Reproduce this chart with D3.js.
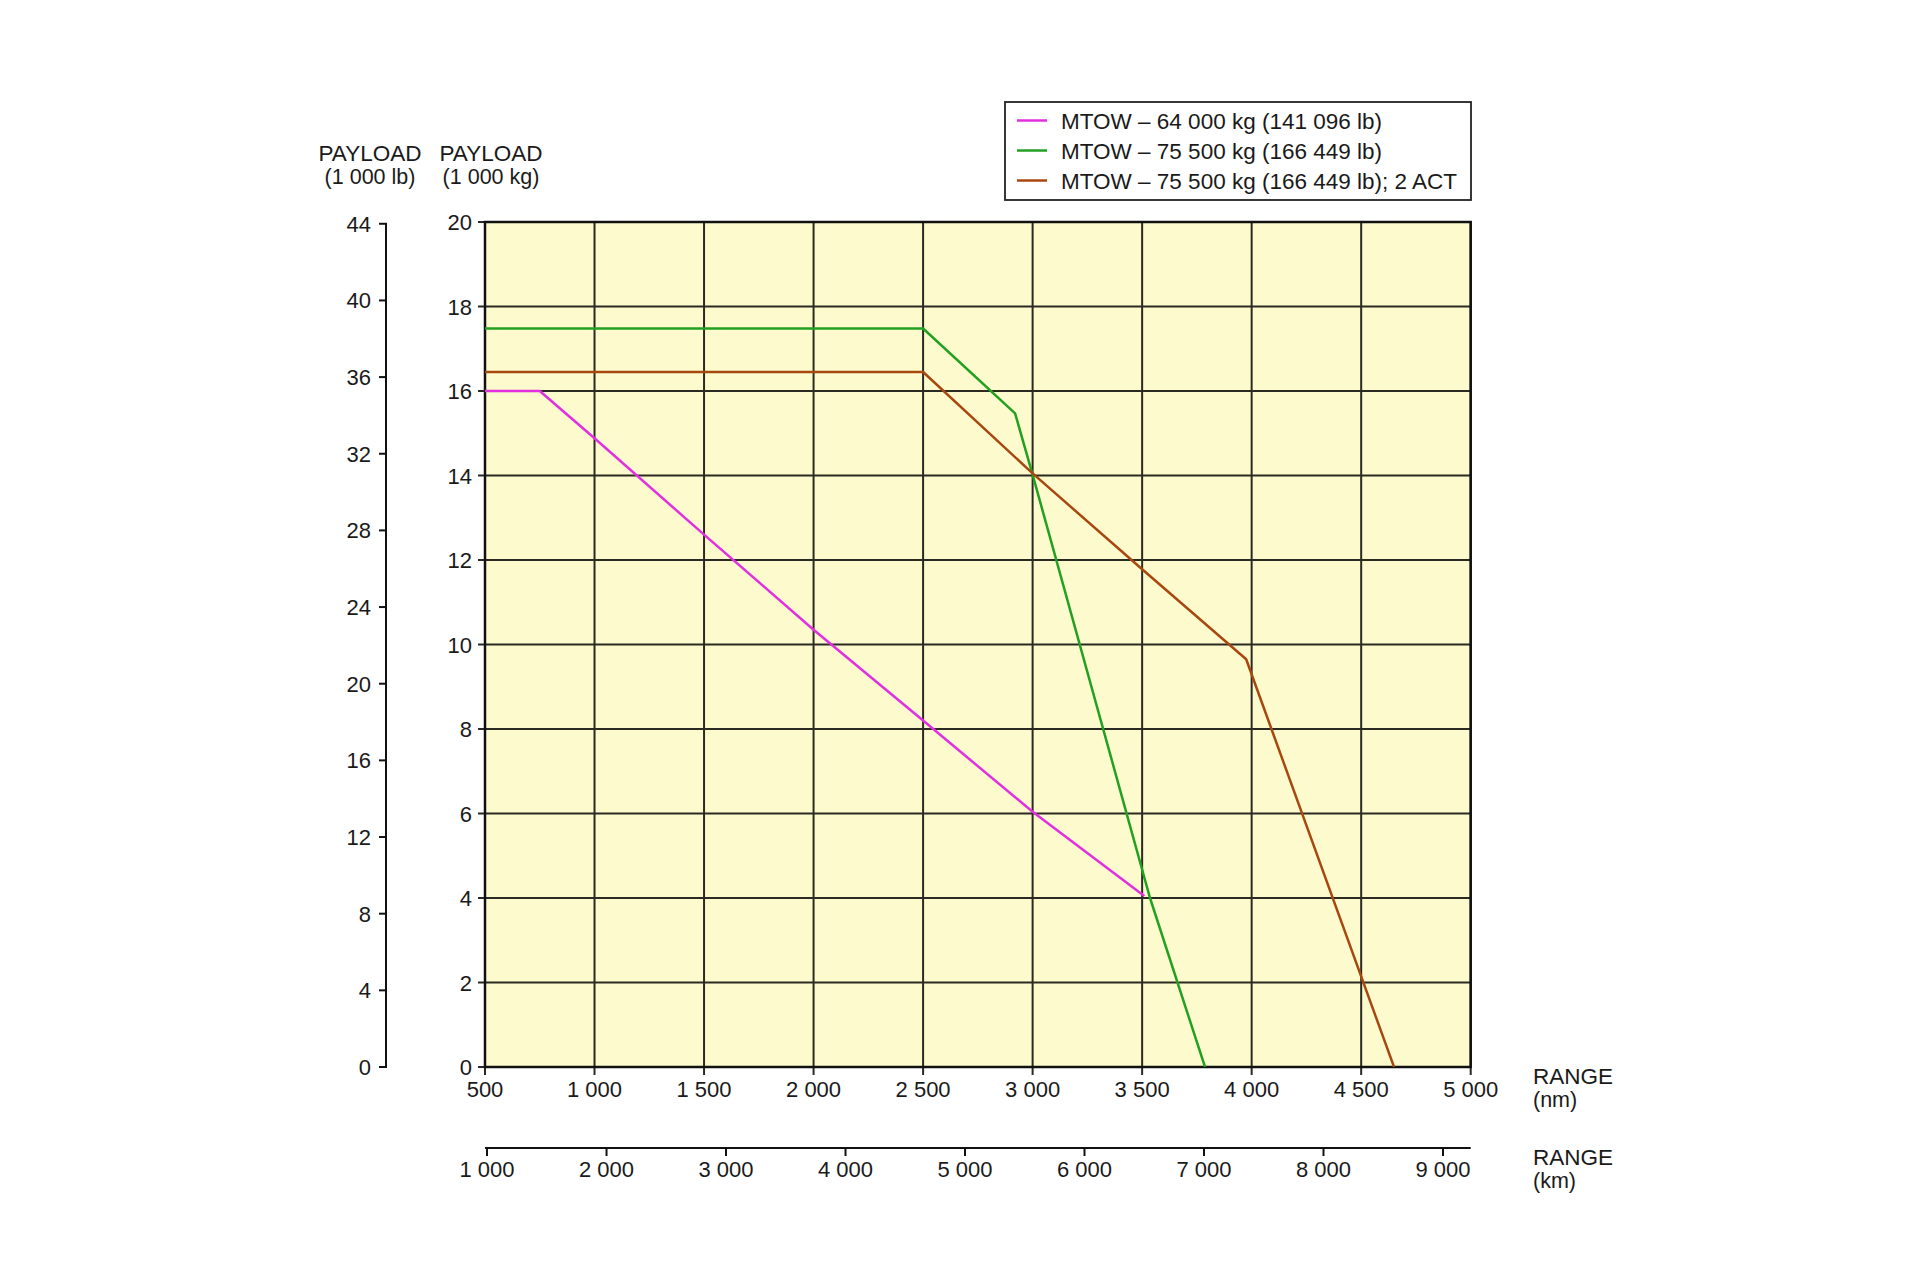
<!DOCTYPE html>
<html>
<head>
<meta charset="utf-8">
<script src="https://cdn.jsdelivr.net/npm/d3@7"></script>
<style>
  html, body { margin: 0; padding: 0; background: #fff; }
  svg text { font-family: "Liberation Sans", Arial, sans-serif; fill: #1a1a1a; }
</style>
</head>
<body>
<svg id="chart" width="1920" height="1280"></svg>
<script>
// ---- Data ----
const seriesNames = [
  "MTOW – 64 000 kg (141 096 lb)",
  "MTOW – 75 500 kg (166 449 lb)",
  "MTOW – 75 500 kg (166 449 lb); 2 ACT"
];
const seriesColors = ["#e22fe0", "#22a022", "#a8470f"];
// range (nm) / payload (1 000 kg)
const mtow64Range   = [500, 750, 1000, 1500, 2000, 2500, 3000, 3510];
const mtow64Payload = [16.0, 16.0, 14.88, 12.6, 10.35, 8.2, 6.04, 4.05];
const mtow75Range   = [500, 2500, 2920, 3000, 3536, 3787];
const mtow75Payload = [17.48, 17.48, 15.47, 14.02, 4.0, 0];
const mtow75ActRange   = [500, 2500, 3000, 3500, 3975, 4650];
const mtow75ActPayload = [16.45, 16.45, 14.05, 11.78, 9.65, 0];

const nmTicks = [500, 1000, 1500, 2000, 2500, 3000, 3500, 4000, 4500, 5000];
const kmTicks = [1000, 2000, 3000, 4000, 5000, 6000, 7000, 8000, 9000];
const kgTicks = [0, 2, 4, 6, 8, 10, 12, 14, 16, 18, 20];
const lbTicks = [0, 4, 8, 12, 16, 20, 24, 28, 32, 36, 40, 44];

// ---- Layout ----
const svg = d3.select("#chart");
const L = 485, R = 1470.7, T = 222, B = 1067;
const x = d3.scaleLinear().domain([500, 5000]).range([L, R]);
const y = d3.scaleLinear().domain([0, 20]).range([B, T]);
const yLb = d3.scaleLinear().domain([0, 20 * 2.20462]).range([B, T]);
const xKm = d3.scaleLinear().domain([983, 9232]).range([L, R]);
const fmtSp = v => (v >= 1000 ? Math.floor(v / 1000) + " " + String(v % 1000).padStart(3, "0") : String(v));

// plot background
svg.append("rect").attr("x", L).attr("y", T).attr("width", R - L).attr("height", B - T)
  .attr("fill", "#fdfbcd");

// grid
const grid = svg.append("g");
grid.selectAll("line.v").data(nmTicks).enter().append("line")
  .attr("x1", d => x(d)).attr("x2", d => x(d)).attr("y1", T).attr("y2", B + 8)
  .attr("stroke", "#2a2a22").attr("stroke-width", 2);
grid.selectAll("line.h").data(kgTicks).enter().append("line")
  .attr("x1", L - 7).attr("x2", R).attr("y1", d => y(d)).attr("y2", d => y(d))
  .attr("stroke", "#2a2a22").attr("stroke-width", 2);

// border
svg.append("rect").attr("x", L).attr("y", T).attr("width", R - L).attr("height", B - T)
  .attr("fill", "none").attr("stroke", "#111").attr("stroke-width", 2.5);

// nm tick labels
svg.append("g").selectAll("text").data(nmTicks).enter().append("text")
  .attr("x", d => x(d)).attr("y", 1097).attr("text-anchor", "middle")
  .attr("font-size", 22).text(d => fmtSp(d));

// kg tick labels
svg.append("g").selectAll("text").data(kgTicks).enter().append("text")
  .attr("x", 472).attr("y", d => y(d) + 8).attr("text-anchor", "end")
  .attr("font-size", 22).text(d => d);

// lb axis
const lbAxis = svg.append("g");
lbAxis.append("line").attr("x1", 386).attr("x2", 386).attr("y1", yLb(44)).attr("y2", B)
  .attr("stroke", "#111").attr("stroke-width", 2);
lbAxis.selectAll("line.t").data(lbTicks).enter().append("line")
  .attr("x1", 379).attr("x2", 387).attr("y1", d => yLb(d)).attr("y2", d => yLb(d))
  .attr("stroke", "#111").attr("stroke-width", 2);
lbAxis.selectAll("text").data(lbTicks).enter().append("text")
  .attr("x", 371).attr("y", d => yLb(d) + 8).attr("text-anchor", "end")
  .attr("font-size", 22).text(d => d);

// km axis
const kmAxis = svg.append("g");
const kmY = 1148;
kmAxis.append("line").attr("x1", L).attr("x2", R).attr("y1", kmY).attr("y2", kmY)
  .attr("stroke", "#111").attr("stroke-width", 2);
kmAxis.selectAll("line.t").data(kmTicks).enter().append("line")
  .attr("x1", d => xKm(d)).attr("x2", d => xKm(d)).attr("y1", kmY).attr("y2", kmY + 8)
  .attr("stroke", "#111").attr("stroke-width", 2);
kmAxis.selectAll("text").data(kmTicks).enter().append("text")
  .attr("x", d => xKm(d)).attr("y", 1177).attr("text-anchor", "middle")
  .attr("font-size", 22).text(d => fmtSp(d));

// axis titles
const titles = svg.append("g").attr("font-size", 21.5);
titles.append("text").attr("x", 370).attr("y", 161).attr("text-anchor", "middle").attr("font-size", 22.5).text("PAYLOAD");
titles.append("text").attr("x", 370).attr("y", 184).attr("text-anchor", "middle").text("(1 000 lb)");
titles.append("text").attr("x", 491).attr("y", 161).attr("text-anchor", "middle").attr("font-size", 22.5).text("PAYLOAD");
titles.append("text").attr("x", 491).attr("y", 184).attr("text-anchor", "middle").text("(1 000 kg)");
titles.append("text").attr("x", 1533).attr("y", 1084).attr("font-size", 22.5).text("RANGE");
titles.append("text").attr("x", 1533).attr("y", 1107).text("(nm)");
titles.append("text").attr("x", 1533).attr("y", 1165).attr("font-size", 22.5).text("RANGE");
titles.append("text").attr("x", 1533).attr("y", 1188).text("(km)");

// series
const series = [
  { r: mtow64Range, p: mtow64Payload },
  { r: mtow75Range, p: mtow75Payload },
  { r: mtow75ActRange, p: mtow75ActPayload }
];
const line = d3.line().x(d => x(d[0])).y(d => y(d[1]));
const clip = svg.append("clipPath").attr("id", "plotclip");
clip.append("rect").attr("x", L).attr("y", T).attr("width", R - L).attr("height", B - T);
svg.append("g").attr("clip-path", "url(#plotclip)").selectAll("path").data(series).enter().append("path")
  .attr("d", s => line(s.r.map((v, i) => [v, s.p[i]])))
  .attr("fill", "none")
  .attr("stroke", (s, i) => seriesColors[i])
  .attr("stroke-width", 2.5)
  .attr("stroke-linejoin", "round");

// legend
const lg = svg.append("g");
lg.append("rect").attr("x", 1005).attr("y", 102).attr("width", 466).attr("height", 98)
  .attr("fill", "#fff").attr("stroke", "#222").attr("stroke-width", 1.8);
seriesNames.forEach((name, i) => {
  const yy = 120.5 + i * 30;
  lg.append("line").attr("x1", 1017).attr("x2", 1047).attr("y1", yy).attr("y2", yy)
    .attr("stroke", seriesColors[i]).attr("stroke-width", 2.5);
  lg.append("text").attr("x", 1061).attr("y", yy + 8).attr("font-size", 22.5).text(name);
});
</script>
</body>
</html>
